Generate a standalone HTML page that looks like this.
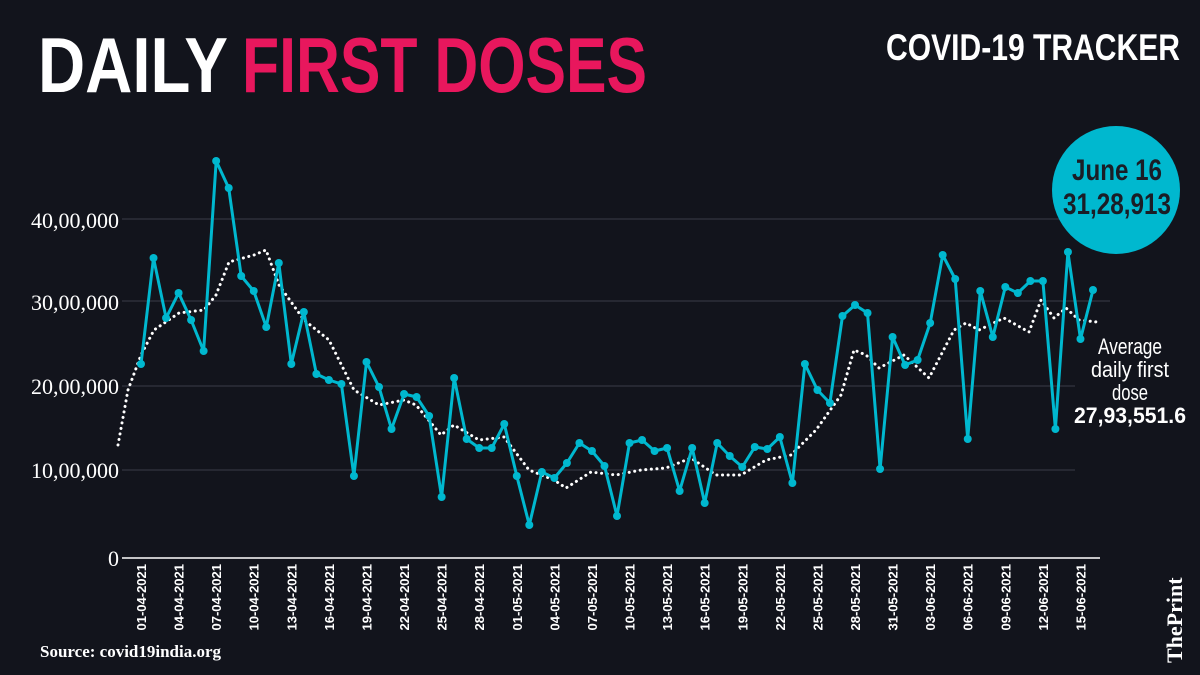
<!DOCTYPE html>
<html><head><meta charset="utf-8"><style>
html,body{margin:0;padding:0;background:#12141c;}
svg{display:block}
</style></head><body>
<svg width="1200" height="675" viewBox="0 0 1200 675" xmlns="http://www.w3.org/2000/svg">
<rect width="1200" height="675" fill="#12141c"/>
<text x="38" y="92" font-family="Liberation Sans Narrow, Liberation Sans, sans-serif" font-weight="bold" font-size="78" fill="#ffffff" textLength="190" lengthAdjust="spacingAndGlyphs">DAILY</text>
<text x="242" y="92" font-family="Liberation Sans Narrow, Liberation Sans, sans-serif" font-weight="bold" font-size="78" fill="#e8175d" textLength="405" lengthAdjust="spacingAndGlyphs">FIRST DOSES</text>
<text x="886" y="60" font-family="Liberation Sans Narrow, Liberation Sans, sans-serif" font-weight="bold" font-size="37" fill="#ffffff" textLength="294" lengthAdjust="spacingAndGlyphs">COVID-19 TRACKER</text>
<g stroke="#3a3d48" stroke-width="1">
<line x1="122" y1="219" x2="1110" y2="219"/><line x1="122" y1="301" x2="1110" y2="301"/>
<line x1="122" y1="386" x2="1075" y2="386"/><line x1="122" y1="470" x2="1075" y2="470"/>
</g>
<line x1="122" y1="558" x2="1100" y2="558" stroke="#ffffff" stroke-width="1.5"/>
<g font-family="Liberation Serif, serif" font-size="22" fill="#ffffff" text-anchor="end">
<text x="119" y="228">40,00,000</text><text x="119" y="310">30,00,000</text>
<text x="119" y="394">20,00,000</text><text x="119" y="478">10,00,000</text>
<text x="119" y="566">0</text>
</g>
<g font-family="Liberation Sans Narrow, Liberation Sans, sans-serif" font-size="13" font-weight="bold" fill="#ffffff" text-anchor="end" id="xl"></g>
<polyline fill="none" stroke="#ffffff" stroke-width="3" stroke-dasharray="0.1 5.5" stroke-linecap="round" points="118,445 128,390 141,355 154,330 179,313 204,310 216,295 229,262 254,255 266,250 279,285 304,320 329,340 354,390 379,405 404,400 416,405 441,435 454,425 479,440 504,437 529,470 554,480 566,488 591,472 616,475 641,470 666,468 691,458 716,475 741,475 766,460 791,455 816,430 841,395 854,350 866,355 879,368 904,355 929,378 954,330 966,323 979,330 1004,318 1029,332 1041,300 1054,318 1066,308 1079,320 1097,322"/>
<g id="ser"></g>
<circle cx="1116" cy="190" r="64" fill="#00b8cf"/>
<g font-family="Liberation Sans Narrow, Liberation Sans, sans-serif" font-weight="bold" fill="#1a1d26" text-anchor="middle">
<text x="1117" y="180" font-size="30" textLength="90" lengthAdjust="spacingAndGlyphs">June 16</text>
<text x="1117" y="214" font-size="30" textLength="108" lengthAdjust="spacingAndGlyphs">31,28,913</text>
</g>
<g font-family="Liberation Sans Narrow, Liberation Sans, sans-serif" fill="#ffffff" text-anchor="middle" font-size="22">
<text x="1130" y="354" textLength="64" lengthAdjust="spacingAndGlyphs">Average</text>
<text x="1130" y="377" textLength="78" lengthAdjust="spacingAndGlyphs">daily first</text>
<text x="1130" y="400" textLength="36" lengthAdjust="spacingAndGlyphs">dose</text>
<text x="1130" y="423" font-weight="bold" textLength="112" lengthAdjust="spacingAndGlyphs">27,93,551.6</text>
</g>
<text x="40" y="657" font-family="Liberation Serif, serif" font-weight="bold" font-size="17" fill="#ffffff">Source: covid19india.org</text>
<text transform="translate(1182,663) rotate(-90)" font-family="Liberation Serif, serif" font-weight="bold" font-size="22" fill="#ffffff">ThePrint</text>
</svg>
<script>
var ys=[364,258,318,293,320,351,161,188,276,291,327,263,364,312,374,380,384,476,362,387,429,394,397,416,497,378,439,448,448,424,476,525,472,478,463,443,451,466,516,443,440,451,448,491,448,503,443,456,467,447,449,437,483,364,390,403,316,305,313,469,337,365,360,323,255,279,439,291,337,287,293,281,281,429,252,339,290];
var ns="http://www.w3.org/2000/svg",g=document.getElementById('ser'),pts=[];
for(var i=0;i<ys.length;i++){var x=141+i*(952/76);pts.push(x.toFixed(1)+','+ys[i]);
var c=document.createElementNS(ns,'circle');c.setAttribute('cx',x);c.setAttribute('cy',ys[i]);c.setAttribute('r',4);c.setAttribute('fill','#00b8cf');g.appendChild(c);}
var p=document.createElementNS(ns,'polyline');p.setAttribute('points',pts.join(' '));p.setAttribute('fill','none');p.setAttribute('stroke','#00b8cf');p.setAttribute('stroke-width','3');p.setAttribute('stroke-linejoin','round');g.insertBefore(p,g.firstChild);
var xl=document.getElementById('xl');
var labs=['01-04-2021','04-04-2021','07-04-2021','10-04-2021','13-04-2021','16-04-2021','19-04-2021','22-04-2021','25-04-2021','28-04-2021','01-05-2021','04-05-2021','07-05-2021','10-05-2021','13-05-2021','16-05-2021','19-05-2021','22-05-2021','25-05-2021','28-05-2021','31-05-2021','03-06-2021','06-06-2021','09-06-2021','12-06-2021','15-06-2021'];
for(var j=0;j<labs.length;j++){var x=141+j*3*(952/76)+5;var t=document.createElementNS(ns,'text');t.setAttribute('transform','translate('+x+',564) rotate(-90)');t.textContent=labs[j];xl.appendChild(t);}
</script>
</body></html>
